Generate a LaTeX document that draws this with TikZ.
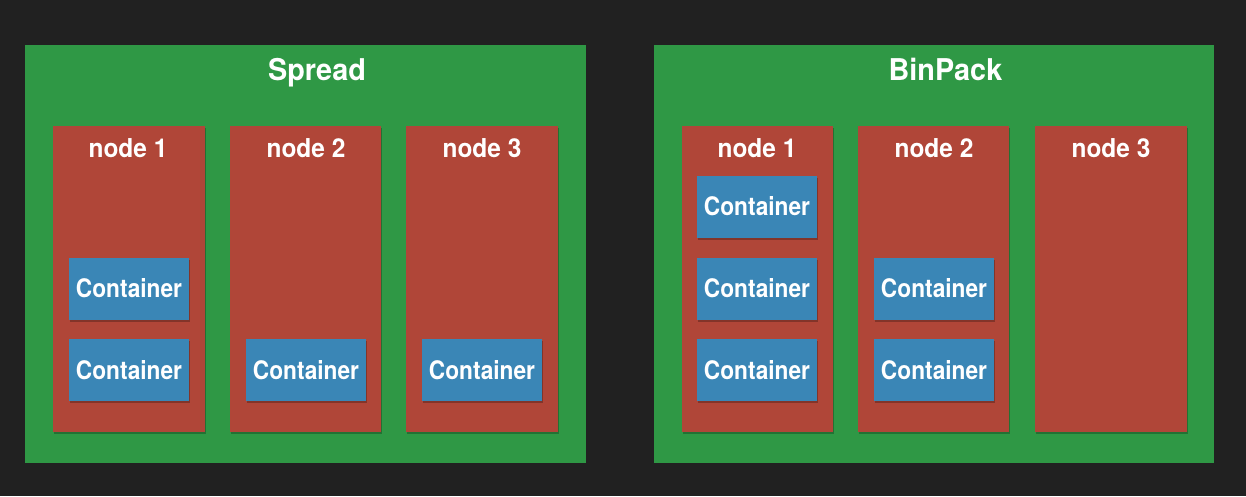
\documentclass[tikz,border=0pt]{standalone}
\usepackage{fontspec}
\setmainfont{TeX Gyre Heros}
\newfontfamily\titlefam[FakeStretch=0.96]{TeX Gyre Heros}
\newfontfamily\nodefam[FakeStretch=0.94]{TeX Gyre Heros}
\newfontfamily\contfam[FakeStretch=0.89]{TeX Gyre Heros}
\usetikzlibrary{shadows}
\definecolor{bgcol}{HTML}{212121}
\definecolor{greencol}{HTML}{2F9845}
\definecolor{redcol}{HTML}{B04638}
\definecolor{bluecol}{HTML}{3A86B6}
\begin{document}
\begin{tikzpicture}[x=1pt,y=-1pt,
  panel/.style={fill=greencol,draw=none,minimum width=561pt,minimum height=418pt,inner sep=0pt},
  hostbox/.style={fill=redcol,draw=none,minimum width=152pt,minimum height=306pt,inner sep=0pt,
    drop shadow={shadow xshift=1pt,shadow yshift=-2pt,opacity=0.25,fill=black}},
  contbox/.style={fill=bluecol,draw=none,minimum width=120pt,minimum height=62pt,inner sep=0pt,
    text=white,font=\contfam\bfseries\fontsize{25.5}{25.5}\selectfont,
    drop shadow={shadow xshift=1pt,shadow yshift=-2pt,opacity=0.25,fill=black}},
  titlelab/.style={text=white,anchor=base,inner sep=0pt,font=\titlefam\bfseries\fontsize{30}{30}\selectfont},
  hostlab/.style={text=white,anchor=base,inner sep=0pt,font=\nodefam\bfseries\fontsize{26}{26}\selectfont}]
\useasboundingbox (0,0) rectangle (1246,496);
\fill[bgcol] (0,0) rectangle (1246,496);
% panels
\node[panel] (spread) at (305.5,254) {};
\node[panel,minimum width=560pt] (binpack) at (934,254) {};
\node[titlelab] (spreadT) at (317,80) {Spread};
\node[titlelab] (binpackT) at (945.5,80) {BinPack};
% spread hosts
\node[hostbox] (s1) at (129,279) {};
\node[hostbox,minimum width=151pt] (s2) at (305.5,279) {};
\node[hostbox] (s3) at (482,279) {};
\node[hostlab] (s1l) at (128,157) {node 1};
\node[hostlab] (s2l) at (306,157) {node 2};
\node[hostlab] (s3l) at (482,157) {node 3};
\node[contbox] (s1a) at (129,288.5) {Container};
\node[contbox] (s1b) at (129,370) {Container};
\node[contbox] (s2a) at (306,370) {Container};
\node[contbox] (s3a) at (482,370) {Container};
% binpack hosts
\node[hostbox,minimum width=151pt] (b1) at (757.5,279) {};
\node[hostbox,minimum width=151pt] (b2) at (933.5,279) {};
\node[hostbox] (b3) at (1111,279) {};
\node[hostlab] (b1l) at (757,157) {node 1};
\node[hostlab] (b2l) at (934,157) {node 2};
\node[hostlab] (b3l) at (1111,157) {node 3};
\node[contbox] (b1a) at (757,206.5) {Container};
\node[contbox] (b1b) at (757,288.5) {Container};
\node[contbox] (b1c) at (757,370) {Container};
\node[contbox] (b2a) at (934,288.5) {Container};
\node[contbox] (b2b) at (934,370) {Container};
\end{tikzpicture}
\end{document}
